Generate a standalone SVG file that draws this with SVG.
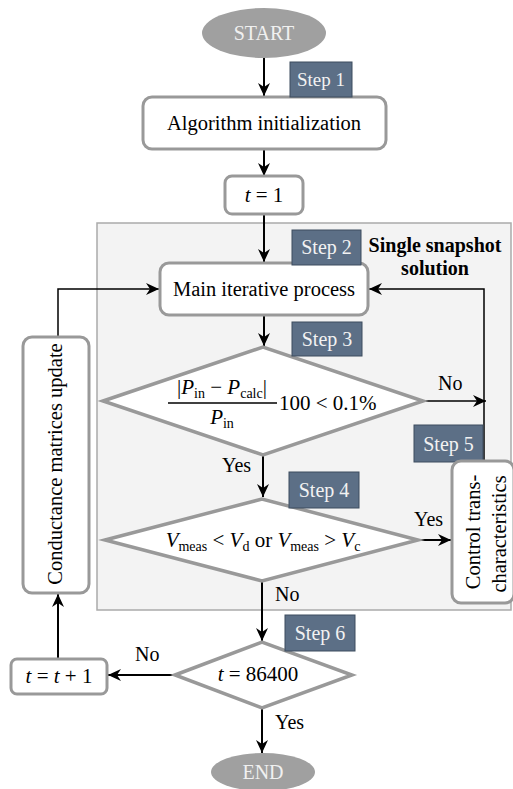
<svg xmlns="http://www.w3.org/2000/svg" width="513" height="789" viewBox="0 0 513 789">
<defs>
<style>
text{font-family:"Liberation Serif","Times New Roman",Tinos,"DejaVu Serif",serif}
.box{fill:#fff;stroke:#999;stroke-width:3}
.dia{fill:#fff;stroke:#999;stroke-width:3.5;stroke-linejoin:miter}
.term{fill:#a0a0a0}
.step{fill:#5c6f86;stroke:#3d4c5e;stroke-width:1}
.steptx{font-size:20px;fill:#f2f2f2;text-anchor:middle}
.tx{font-size:20.5px;fill:#000;text-anchor:middle}
.lbl{font-size:20px;fill:#000}
.math{font-size:21px;fill:#000}
.it{font-style:italic}
.sub{font-size:14px}
.con{fill:none;stroke:#000;stroke-width:2}
.con1{fill:none;stroke:#000;stroke-width:1.5}
.bold{font-size:20px;font-weight:bold;text-anchor:middle}
.termtx{font-size:20px;fill:#f0f0f0;text-anchor:middle}
</style>
<marker id="arr" markerUnits="userSpaceOnUse" markerWidth="14" markerHeight="12" refX="13" refY="6" orient="auto">
<path d="M0,0 L13,6 L0,12 L4,6 z" fill="#000"/>
</marker>
</defs>

<g id="region">
<rect x="97" y="223" width="414" height="387" fill="#f3f3f3" stroke="#aaa" stroke-width="1.5"/>
<text class="bold" x="435" y="252">Single snapshot</text>
<text class="bold" x="435" y="275">solution</text>
</g>

<g id="connectors">
<line class="con" x1="264" y1="58" x2="264" y2="96" marker-end="url(#arr)"/>
<line class="con" x1="264" y1="149" x2="264" y2="176" marker-end="url(#arr)"/>
<line class="con" x1="264" y1="214" x2="264" y2="262" marker-end="url(#arr)"/>
<line class="con" x1="264" y1="315" x2="264" y2="346" marker-end="url(#arr)"/>
<polyline class="con1" points="58,337 58,289 159,289" marker-end="url(#arr)"/>
<polyline class="con1" points="484,461 484,289 369,289" marker-end="url(#arr)"/>
<line class="con1" x1="423" y1="401" x2="486" y2="401" marker-end="url(#arr)"/>
<line class="con" x1="263" y1="455" x2="263" y2="497" marker-end="url(#arr)"/>
<line class="con" x1="418" y1="540" x2="451" y2="540" marker-end="url(#arr)"/>
<line class="con" x1="262" y1="581" x2="262" y2="641" marker-end="url(#arr)"/>
<line class="con" x1="175" y1="675" x2="108" y2="675" marker-end="url(#arr)"/>
<line class="con" x1="58" y1="659" x2="58" y2="594" marker-end="url(#arr)"/>
<line class="con" x1="262" y1="708" x2="262" y2="753" marker-end="url(#arr)"/>
<text class="lbl" x="438" y="390">No</text>
<text class="lbl" x="222" y="472">Yes</text>
<text class="lbl" x="414" y="526">Yes</text>
<text class="lbl" x="275" y="601">No</text>
<text class="lbl" x="135" y="661">No</text>
<text class="lbl" x="275" y="729">Yes</text>
</g>

<g id="start">
<ellipse class="term" cx="264" cy="33" rx="62" ry="25"/>
<text class="termtx" x="264" y="40">START</text>
</g>

<g id="init">
<rect class="box" x="143" y="97" width="243" height="52" rx="9"/>
<text class="tx" x="264" y="130">Algorithm initialization</text>
</g>
<g id="step1">
<rect class="step" x="290" y="62" width="62" height="35"/>
<text class="steptx" x="321" y="86" style="font-size:19px">Step 1</text>
</g>

<g id="t1">
<rect class="box" x="225" y="176" width="78" height="38" rx="7"/>
<text class="math" x="264" y="202" text-anchor="middle"><tspan class="it">t</tspan> = 1</text>
</g>

<g id="main">
<rect class="box" x="160" y="263" width="208" height="52" rx="9"/>
<text class="tx" x="264" y="296">Main iterative process</text>
</g>
<g id="step2">
<rect class="step" x="292" y="230" width="69" height="35"/>
<text class="steptx" x="326.5" y="254">Step 2</text>
</g>

<g id="check1">
<polygon class="dia" points="103,401 263,347 423,401 263,455"/>
<text class="math" x="222" y="394" text-anchor="middle">|<tspan class="it">P</tspan><tspan class="sub" dy="4">in</tspan><tspan dy="-4"> − </tspan><tspan class="it">P</tspan><tspan class="sub" dy="4">calc</tspan><tspan dy="-4">|</tspan></text>
<line x1="168" y1="403" x2="277" y2="403" stroke="#000" stroke-width="1.3"/>
<text class="math" x="222" y="424" text-anchor="middle"><tspan class="it">P</tspan><tspan class="sub" dy="4">in</tspan></text>
<text class="math" x="279" y="410">100 &lt; 0.1%</text>
</g>
<g id="step3">
<rect class="step" x="292" y="322" width="70" height="34"/>
<text class="steptx" x="327" y="346">Step 3</text>
</g>

<g id="check2">
<polygon class="dia" points="105,540 262,499 418,540 262,581"/>
<text class="math" x="263" y="547" text-anchor="middle"><tspan class="it">V</tspan><tspan class="sub" dy="4">meas</tspan><tspan dy="-4"> &lt; </tspan><tspan class="it">V</tspan><tspan class="sub" dy="4">d</tspan><tspan dy="-4"> or </tspan><tspan class="it">V</tspan><tspan class="sub" dy="4">meas</tspan><tspan dy="-4"> &gt; </tspan><tspan class="it">V</tspan><tspan class="sub" dy="4">c</tspan></text>
</g>
<g id="step4">
<rect class="step" x="289" y="472" width="70" height="36"/>
<text class="steptx" x="324" y="497">Step 4</text>
</g>

<g id="step5">
<rect class="step" x="414" y="425" width="69" height="37"/>
<text class="steptx" x="448.5" y="451">Step 5</text>
</g>

<g id="control">
<rect class="box" x="452" y="461" width="62" height="142" rx="9"/>
<text class="tx" transform="translate(480,532) rotate(-90)" x="0" y="0">Control trans-</text>
<text class="tx" transform="translate(506,534) rotate(-90)" x="0" y="0">characteristics</text>
</g>

<g id="check3">
<polygon class="dia" points="175,675 262,642 352,675 262,708"/>
<text class="math" x="258" y="681" text-anchor="middle"><tspan class="it">t</tspan> = 86400</text>
</g>
<g id="step6">
<rect class="step" x="285" y="615" width="70" height="36"/>
<text class="steptx" x="320" y="640">Step 6</text>
</g>

<g id="tinc">
<rect class="box" x="11" y="659" width="96" height="35" rx="6"/>
<text class="math" x="59" y="683" text-anchor="middle"><tspan class="it">t</tspan> = <tspan class="it">t</tspan> + 1</text>
</g>

<g id="update">
<rect class="box" x="23" y="337" width="66" height="256" rx="9"/>
<text class="tx" transform="translate(62,464) rotate(-90)" x="0" y="0">Conductance matrices update</text>
</g>

<g id="end">
<ellipse class="term" cx="263" cy="772" rx="52" ry="19"/>
<text class="termtx" x="263" y="779">END</text>
</g>
</svg>
